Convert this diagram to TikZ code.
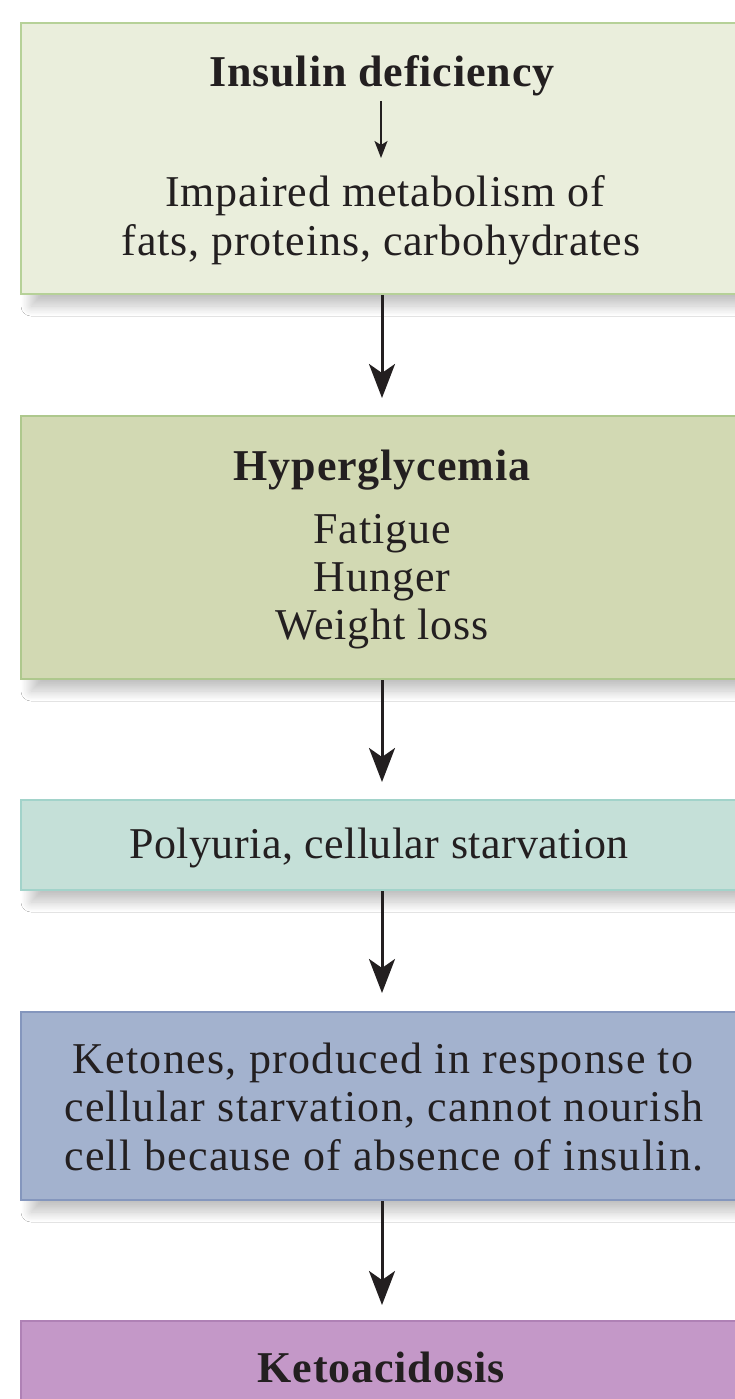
\documentclass[tikz,border=0pt]{standalone}
\usepackage{fontspec}
\setmainfont{Liberation Serif}[LetterSpace=2]
\usetikzlibrary{arrows.meta,shadows.blur}
\definecolor{ink}{HTML}{231F20}
\definecolor{fA}{HTML}{EAEEDC}\definecolor{dA}{HTML}{B6D198}
\definecolor{fB}{HTML}{D2D9B3}\definecolor{dB}{HTML}{AEC88D}
\definecolor{fC}{HTML}{C5E0D8}\definecolor{dC}{HTML}{A2D3CA}
\definecolor{fD}{HTML}{A3B2CE}\definecolor{dD}{HTML}{8496BD}
\definecolor{fE}{HTML}{C498C8}\definecolor{dE}{HTML}{AF81B5}
\begin{document}
\begin{tikzpicture}[x=1pt,y=-1pt,
  box/.style={rectangle, line width=2pt, minimum width=722pt, anchor=north west, inner sep=0pt,
    blur shadow={shadow xshift=10pt, shadow yshift=-12pt, shadow blur radius=10pt, shadow opacity=24, shadow blur steps=16}},
  txt/.style={anchor=base, inner sep=0pt, text=ink, font=\fontsize{44}{48}\selectfont},
  ttl/.style={txt, font=\fontsize{44}{48}\selectfont\bfseries},
  wide/.style={txt, font=\fontsize{44}{48}\selectfont\addfontfeature{LetterSpace=3}},
  tight/.style={txt, font=\fontsize{44}{48}\selectfont\addfontfeature{LetterSpace=1}},
  flow/.style={-{Stealth[length=34pt,width=26pt,inset=9pt]}, line width=3pt, draw=ink},
  minor/.style={-{Stealth[length=17pt,width=13pt,inset=4pt]}, line width=1.5pt, draw=ink},
]
\useasboundingbox (0,0) rectangle (735,1399);
\clip (0,0) rectangle (735,1399);
\fill[white] (0,0) rectangle (735,1399);

\node[box, fill=fA, draw=dA, minimum height=271pt] (b1) at (20,22) {};
\node[box, fill=fB, draw=dB, minimum height=263pt] (b2) at (20,415) {};
\node[box, fill=fC, draw=dC, minimum height=90pt]  (b3) at (20,799) {};
\node[box, fill=fD, draw=dD, minimum height=188pt] (b4) at (20,1011) {};
\node[box, fill=fE, draw=dE, minimum height=140pt] (b5) at (20,1320) {};

% box 1
\node[ttl] (t1) at (382,87) {Insulin deficiency};
\coordinate (s1) at (381,101);
\coordinate (s2) at (381,158);
\draw[minor] (s1) -- (s2);
\node[txt] (t1a) at (385,207) {Impaired metabolism of};
\node[txt] (t1b) at (381,255) {fats, proteins, carbohydrates};

% box 2
\node[ttl] (t2) at (382,480) {Hyperglycemia};
\node[txt] (t2a) at (382,543) {Fatigue};
\node[txt] (t2b) at (382,591) {Hunger};
\node[txt] (t2c) at (382,639) {Weight loss};

% box 3
\node[tight] (t3) at (379,858) {Polyuria, cellular starvation};

% box 4
\node[wide] (t4a) at (383,1073) {Ketones, produced in response to};
\node[wide] (t4b) at (384,1121) {cellular starvation, cannot nourish};
\node[wide] (t4c) at (384,1170) {cell because of absence of insulin.};

% box 5
\node[ttl] (t5) at (381,1382) {Ketoacidosis};

\draw[flow, shorten >=17pt] (b1) -- (b2);
\draw[flow, shorten >=17pt] (b2) -- (b3);
\draw[flow, shorten >=18pt] (b3) -- (b4);
\draw[flow, shorten >=15pt] (b4) -- (b5);
\end{tikzpicture}
\end{document}
